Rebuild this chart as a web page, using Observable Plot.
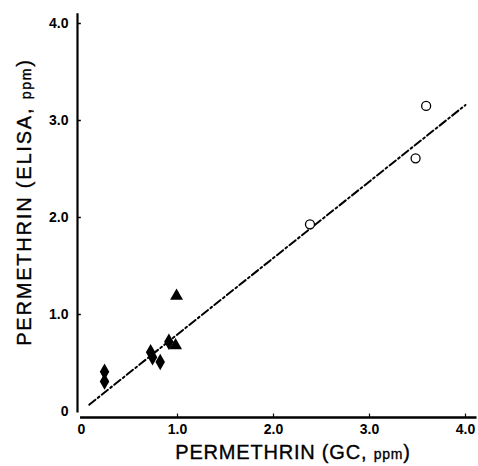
<!DOCTYPE html>
<html>
<head>
<meta charset="utf-8">
<script src="https://cdn.jsdelivr.net/npm/d3@7"></script>
<script src="https://cdn.jsdelivr.net/npm/@observablehq/plot@0.6"></script>
<style>
  html, body { margin: 0; padding: 0; background: #fff; }
  #chart svg { display: block; }
</style>
</head>
<body>
<div id="chart"></div>
<script>
// Data
const circleGC    = [2.38, 3.48, 3.59];
const circleELISA = [1.93, 2.61, 3.15];
const triGC       = [0.99, 0.98];
const triELISA    = [1.19, 0.68];
const diaGC       = [0.24, 0.24, 0.72, 0.74, 0.82, 0.91];
const diaELISA    = [0.41, 0.31, 0.61, 0.56, 0.51, 0.72];
const fitGC       = [0.08, 4.0];
const fitELISA    = [0.07, 3.16];
const tickValues  = [0, 1, 2, 3, 4];
const tickLabels  = ["0", "1.0", "2.0", "3.0", "4.0"];

const zip = (xs, ys) => xs.map((x, i) => ({x, y: ys[i]}));
const circles = zip(circleGC, circleELISA);
const tris = zip(triGC, triELISA);
const dias = zip(diaGC, diaELISA);
const fit = zip(fitGC, fitELISA);

const W = 478, H = 466;
const plot = Plot.plot({
  width: W,
  height: H,
  marginLeft: 81,
  marginRight: 13,
  marginTop: 23,
  marginBottom: 55,
  style: {fontFamily: "'Liberation Sans', Arial, sans-serif", background: "#fff"},
  x: {type: "linear", domain: [0, 4]},
  y: {type: "linear", domain: [0, 4]},
  marks: [
    // axis lines
    Plot.ruleX([0], {y1: -0.015, y2: 4.1, dx: -4, stroke: "#000", strokeWidth: 2.2}),
    Plot.ruleY([0], {x1: -0.01, x2: 4.12, dy: 6, stroke: "#000", strokeWidth: 2.6}),
    // inward ticks
    Plot.ruleY(tickValues.slice(1), {x1: 0, x2: 0.04, dx: -4, stroke: "#000", strokeWidth: 1.5}),
    Plot.ruleX(tickValues.slice(1), {y1: 0, y2: 0.035, dy: 6, stroke: "#000", strokeWidth: 1.2}),
    Plot.axisY({ticks: tickValues, tickFormat: (d, i) => tickLabels[i], tickSize: 0, tickPadding: 9, dx: -4, fontSize: 14, fontWeight: "bold", fill: "#000", label: null}),
    Plot.axisX({ticks: tickValues, tickFormat: (d, i) => tickLabels[i], tickSize: 0, tickPadding: 7, dy: 6, fontSize: 14, fontWeight: "bold", fill: "#000", label: null}),
    // fit line
    Plot.line(fit, {x: "x", y: "y", stroke: "#000", strokeWidth: 2, strokeDasharray: "8,3,2,3"}),
    // points
    Plot.dot(circles, {x: "x", y: "y", r: 4.5, stroke: "#000", strokeWidth: 1.3, fill: "#fff"}),
    Plot.dot(tris, {x: "x", y: "y", symbol: "triangle", r: 4.8, fill: "#000", stroke: "none"}),
    Plot.dot(dias, {x: "x", y: "y", symbol: "diamond", r: 5, fill: "#000", stroke: "none"})
  ]
});

document.getElementById("chart").appendChild(plot);

// Axis titles with the smaller "ppm"
const svg = d3.select(plot);
function title(sel, spacing) {
  return sel
    .attr("text-anchor", "middle")
    .attr("font-family", "'Liberation Sans', Arial, sans-serif")
    .attr("font-size", 20)
    .attr("letter-spacing", spacing)
    .attr("fill", "#000")
    .attr("stroke", "#000")
    .attr("stroke-width", 0.35);
}
const xt = title(svg.append("text").attr("x", 293).attr("y", 459), 0.8);
xt.append("tspan").text("PERMETHRIN (GC, ");
xt.append("tspan").attr("font-size", 14).text("ppm");
xt.append("tspan").text(")");

const yt = title(svg.append("text").attr("transform", "translate(31,202) rotate(-90)"), 1.8);
yt.append("tspan").text("PERMETHRIN (ELISA, ");
yt.append("tspan").attr("font-size", 14).text("ppm");
yt.append("tspan").text(")");
</script>
</body>
</html>
